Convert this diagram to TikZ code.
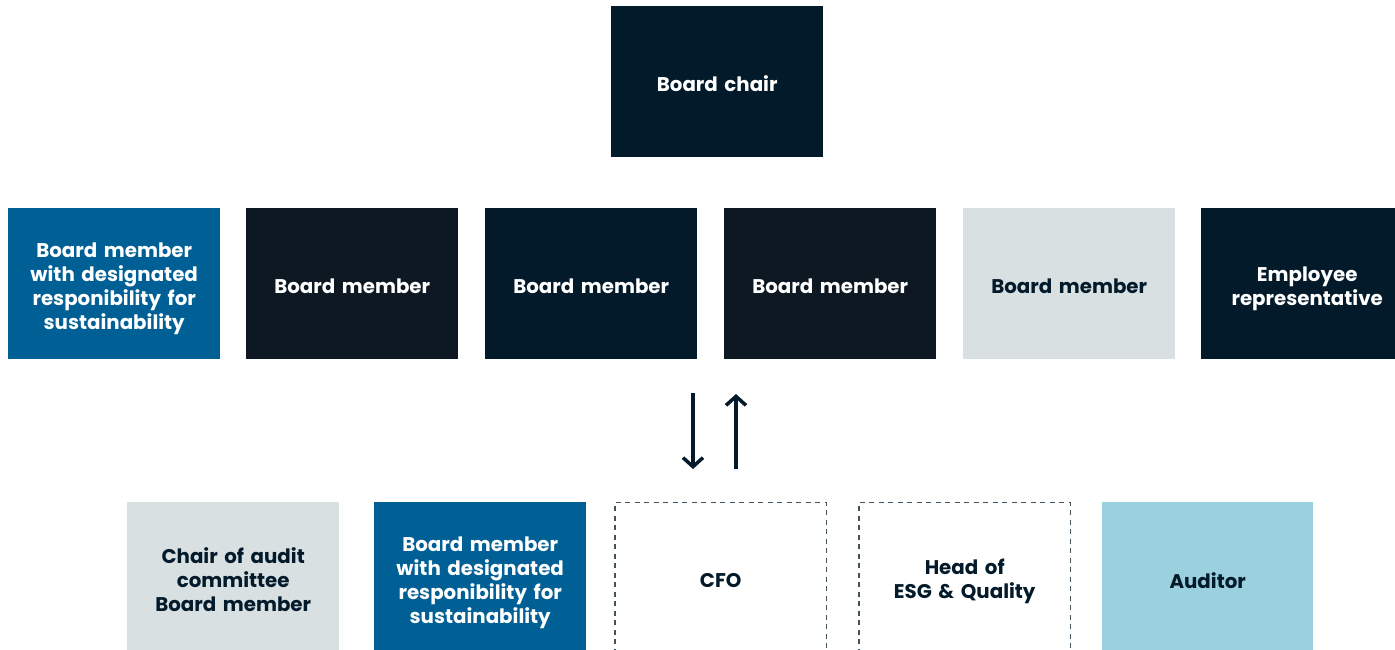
\documentclass[tikz,border=0pt]{standalone}
\usepackage{fontspec}
\setmainfont{Poppins}
\usetikzlibrary{arrows.meta}
\definecolor{navy}{HTML}{021A2A}
\definecolor{ink}{HTML}{0E1823}
\definecolor{sblue}{HTML}{006096}
\definecolor{lgrey}{HTML}{D8E0E2}
\definecolor{lblue}{HTML}{9BD0DE}
\tikzset{
  box/.style={rectangle, minimum width=212pt, minimum height=151pt, inner sep=0pt, anchor=north west},
  txt/.style={align=center, font=\fontsize{19.8}{24}\selectfont\bfseries, text width=205pt, yshift=-2.5pt},
  darkbox/.style={box, fill=navy},
  inkbox/.style={box, fill=ink},
  bluebox/.style={box, fill=sblue},
  greybox/.style={box, fill=lgrey},
  lbluebox/.style={box, fill=lblue},
  dashbox/.style={box},
  wtxt/.style={txt, text=white},
  ntxt/.style={txt, text=navy},
  dashline/.style={draw=navy!75, line width=1.2pt, dash pattern=on 5pt off 4.5pt},
  arr/.style={line width=3.5pt, draw=navy, -{Straight Barb[length=9pt, width=20pt, line width=3.5pt]}}
}
\begin{document}
\begin{tikzpicture}[x=1pt, y=-1pt]
\useasboundingbox (0,0) rectangle (1395,649);
\begin{scope}
\clip (0,0) rectangle (1395,649);
\node[darkbox] (chair) at (611,6) {};
\node[wtxt, yshift=1pt] (tchair) at (chair.center) {Board chair};
\node[bluebox] (m1) at (8,208) {};
\node[wtxt, yshift=-3pt] (tm1) at (m1.center) {Board member\\with designated\\responibility for\\sustainability};
\node[inkbox] (m2) at (246,208) {};
\node[wtxt] (tm2) at (m2.center) {Board member};
\node[darkbox] (m3) at (485,208) {};
\node[wtxt] (tm3) at (m3.center) {Board member};
\node[inkbox] (m4) at (724,208) {};
\node[wtxt] (tm4) at (m4.center) {Board member};
\node[greybox] (m5) at (963,208) {};
\node[ntxt] (tm5) at (m5.center) {Board member};
\node[darkbox] (m6) at (1201,208) {};
\node[wtxt, yshift=-3pt] (tm6) at (m6.center) {Employee\\representative};
\node[greybox] (c1) at (127,502) {};
\node[ntxt, yshift=1pt] (tc1) at (c1.center) {Chair of audit\\committee\\Board member};
\node[bluebox] (c2) at (374,502) {};
\node[wtxt, yshift=-3pt] (tc2) at (c2.center) {Board member\\with designated\\responibility for\\sustainability};
\node[dashbox, minimum width=211pt] (c3) at (615,502.5) {};
\node[ntxt] (tc3) at (c3.center) {CFO};
\node[dashbox, minimum width=211pt] (c4) at (859,502.5) {};
\node[ntxt, yshift=-1pt] (tc4) at (c4.center) {Head of\\ESG \& Quality};
\node[lbluebox, minimum width=211pt] (c5) at (1102,502) {};
\node[ntxt] (tc5) at (c5.center) {Auditor};
\draw[dashline] (c3.south west) -- (c3.north west) -- (c3.north east) -- (c3.south east);
\draw[dashline] (c4.south west) -- (c4.north west) -- (c4.north east) -- (c4.south east);
\end{scope}
\coordinate (dtop) at (693,393);
\coordinate (dbot) at (693,469);
\coordinate (ubot) at (736,469);
\coordinate (utop) at (736,394);
\draw[arr] (dtop) -- (dbot);
\draw[arr] (ubot) -- (utop);
\end{tikzpicture}
\end{document}
